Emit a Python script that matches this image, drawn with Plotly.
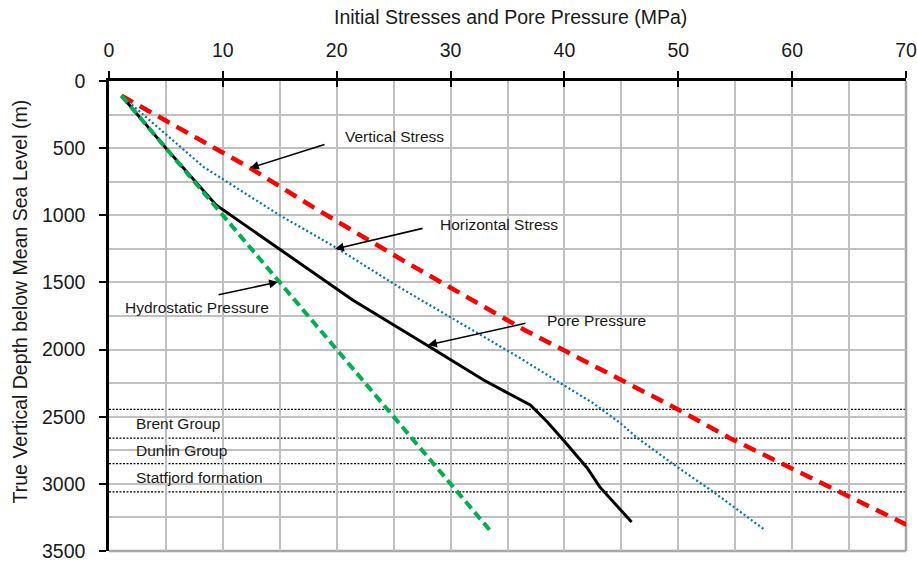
import plotly.graph_objects as go

# Depth profiles (m below MSL) and values (MPa)
vert_depth = [110, 648, 938, 1355, 1854, 2442, 2658, 2867, 3083, 3306]
vert_stress = [1.1, 12.4, 17.9, 26.2, 36.5, 49.9, 54.5, 59.6, 64.8, 70.1]

horiz_depth = [110, 640, 1000, 1244, 1541, 2063, 2227, 2398, 2547, 2658, 2874, 3061, 3343]
horiz_stress = [1.1, 8.3, 15.0, 20.0, 25.6, 36.1, 39.2, 42.5, 44.9, 46.4, 49.9, 53.1, 57.6]

pore_depth = [110, 500, 923, 1631, 1966, 2227, 2413, 2539, 2673, 2882, 3023, 3284]
pore_pressure = [1.1, 5.0, 9.4, 21.4, 27.9, 32.9, 37.0, 38.5, 39.9, 42.0, 43.1, 45.9]

hydro_depth = [110, 1000, 2000, 3000, 3350]
hydro_pressure = [1.1, 10.0, 20.0, 30.0, 33.5]

# Formation boundaries and names
boundary_depths = [2445, 2660, 2850, 3060]
formation_names = ["Brent Group", "Dunlin Group", "Statfjord formation"]

x_ticks = [0, 10, 20, 30, 40, 50, 60, 70]
y_ticks = [0, 500, 1000, 1500, 2000, 2500, 3000, 3500]

FONT = "Liberation Sans, Arial, sans-serif"
GRID = "#c0c0c0"
TEXT = "#1a1a1a"

fig = go.Figure()

fig.add_trace(go.Scatter(x=vert_stress, y=vert_depth, mode="lines",
                         line=dict(color="#ff0000", width=4.5, dash="13px,8px")))
fig.add_trace(go.Scatter(x=horiz_stress, y=horiz_depth, mode="lines",
                         line=dict(color="#0070c0", width=2.2, dash="2px,2.5px")))
fig.add_trace(go.Scatter(x=pore_pressure, y=pore_depth, mode="lines",
                         line=dict(color="#000000", width=3)))
fig.add_trace(go.Scatter(x=hydro_pressure, y=hydro_depth, mode="lines",
                         line=dict(color="#00b050", width=4, dash="9px,5px")))
# helper trace so the inner-tick overlay axis is drawn
fig.add_trace(go.Scatter(x=[0], y=[0], xaxis="x2", mode="markers",
                         marker=dict(opacity=0), hoverinfo="skip"))

# formation boundary lines
for d in boundary_depths:
    fig.add_shape(type="line", xref="paper", x0=0, x1=1, yref="y", y0=d, y1=d,
                  line=dict(color="#000000", width=1.2, dash="2px,1.5px"), layer="between")

# formation labels centred in each interval
for i, name in enumerate(formation_names):
    mid = (boundary_depths[i] + boundary_depths[i + 1]) / 2
    fig.add_annotation(x=2.2, y=mid, text=name, showarrow=False, xanchor="left",
                       yanchor="middle", font=dict(size=15.5, color=TEXT, family=FONT))

# right and bottom frame
fig.add_shape(type="line", xref="paper", yref="paper", x0=1, x1=1, y0=0, y1=1,
              line=dict(color="#a6a6a6", width=2.5), layer="between")
fig.add_shape(type="line", xref="paper", yref="paper", x0=0, x1=1, y0=0, y1=0,
              line=dict(color="#a6a6a6", width=2.5), layer="between")

# curve labels with arrows
labels = [
    ("Vertical Stress", 20.55, 410, 12.38, 648, 19.06, 469),
    ("Horizontal Stress", 28.9, 1072, 19.85, 1251, 27.67, 1095),
    ("Pore Pressure", 38.3, 1780, 28.02, 1966, 36.71, 1802),
    ("Hydrostatic Pressure", 1.23, 1683, 14.84, 1497, 9.49, 1594),
]
for text, tx, ty, hx, hy, sx, sy in labels:
    fig.add_annotation(x=tx, y=ty, text=text, showarrow=False, xanchor="left",
                       yanchor="middle", font=dict(size=15.5, color=TEXT, family=FONT))
    fig.add_annotation(x=hx, y=hy, ax=sx, ay=sy, axref="x", ayref="y", text="",
                       showarrow=True, arrowhead=2, arrowsize=1.1, arrowwidth=1.6,
                       arrowcolor="#000000")

# axis titles
fig.add_annotation(xref="paper", yref="paper", x=0.504, y=1.136,
                   text="Initial Stresses and Pore Pressure (MPa)", showarrow=False,
                   xanchor="center", yanchor="middle",
                   font=dict(size=19.5, color=TEXT, family=FONT))
fig.add_annotation(xref="paper", yref="paper", x=-0.1117, y=0.531,
                   text="True Vertical Depth below Mean Sea Level (m)", showarrow=False,
                   textangle=-90, xanchor="center", yanchor="middle",
                   font=dict(size=19.5, color=TEXT, family=FONT))

fig.update_layout(
    width=917, height=564,
    margin=dict(l=109, r=11, t=81, b=13, autoexpand=False),
    paper_bgcolor="white", plot_bgcolor="white",
    showlegend=False,
    font=dict(family=FONT, size=19.5, color=TEXT),
    xaxis=dict(
        side="top", range=[0, 70], tickvals=x_ticks, ticktext=[str(v) for v in x_ticks],
        showgrid=True, gridcolor=GRID, gridwidth=2,
        minor=dict(dtick=5, showgrid=True, gridcolor=GRID, gridwidth=2),
        showline=True, linecolor="#000000", linewidth=2.5,
        ticks="outside", ticklen=7, tickwidth=1.5, tickcolor="#000000",
        ticklabelstandoff=6, zeroline=False, automargin=False,
        tickfont=dict(size=19.5, color=TEXT, family=FONT),
    ),
    xaxis2=dict(
        overlaying="x", side="top", range=[0, 70], tickvals=x_ticks, matches="x",
        showticklabels=False, showgrid=False, showline=False, zeroline=False,
        ticks="inside", ticklen=6, tickwidth=1.5, tickcolor="#000000", automargin=False,
    ),
    yaxis=dict(
        range=[3500, 0], tickvals=y_ticks, ticktext=[str(v) for v in y_ticks],
        showgrid=True, gridcolor=GRID, gridwidth=2,
        minor=dict(dtick=250, showgrid=True, gridcolor=GRID, gridwidth=2),
        showline=True, linecolor="#000000", linewidth=2.5,
        ticks="outside", ticklen=7, tickwidth=1.5, tickcolor="#000000",
        ticklabelstandoff=10, zeroline=False, automargin=False,
        tickfont=dict(size=19.5, color=TEXT, family=FONT),
    ),
)

fig.write_html("out.html")
